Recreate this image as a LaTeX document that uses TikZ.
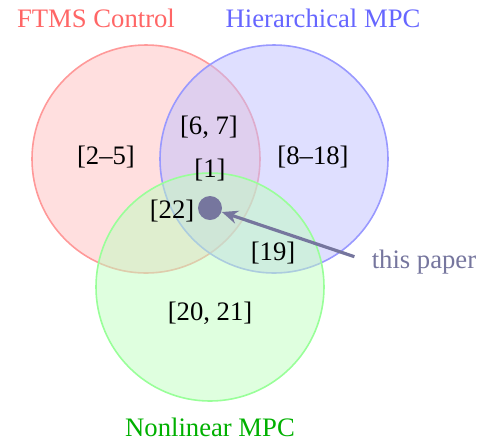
\documentclass[tikz,border=0pt]{standalone}
\usepackage{fontspec}
\setmainfont{Liberation Serif}
\usetikzlibrary{arrows.meta,positioning}

\definecolor{papercol}{RGB}{118,118,158}
\definecolor{nlgreen}{RGB}{0,176,0}

\tikzset{
  venn/.style={circle, minimum size=85.5pt, inner sep=0pt, semithick, fill opacity=0.5, draw opacity=1},
  setlabel/.style={font=\normalsize},
}

\begin{document}
\begin{tikzpicture}[x=0.375pt, y=-0.375pt]
    \useasboundingbox (0,0) rectangle (483,441);

    % Circles
    \node[venn, draw=red!40, fill=red!25] (ftms) at (146,159) {};
    \node[venn, draw=blue!40, fill=blue!25] (hier) at (274,159) {};
    \node[venn, draw=green!40, fill=green!25] (nonlin) at (210,287) {};

    % Set names
    \node[setlabel, text=red!60] (ftmsname) at (96,18) {FTMS Control};
    \node[setlabel, text=blue!60] (hiername) at (323,18) {Hierarchical MPC};
    \node[setlabel, text=nlgreen] (nonlinname) at (210,427) {Nonlinear MPC};

    % References in each region
    \node (r25) at (106,157) {[2--5]};
    \node (r67) at (209,127) {[6, 7]};
    \node (r818) at (313,157) {[8--18]};
    \node (r1) at (210,170) {[1]};
    \node (r22) at (172,211) {[22]};
    \node (r19) at (273,253) {[19]};
    \node (r2021) at (210,313) {[20, 21]};

    % This paper
    \node[circle, fill=papercol, minimum size=9pt, inner sep=0pt] (dot) at (210,208) {};
    \node[text=papercol] (paper) at (424,262) {this paper};
    \draw[papercol, line width=1.2pt, -{Stealth[length=6pt,width=5pt]}] ([xshift=-3pt,yshift=2pt]paper.west) -- (dot);
\end{tikzpicture}
\end{document}
